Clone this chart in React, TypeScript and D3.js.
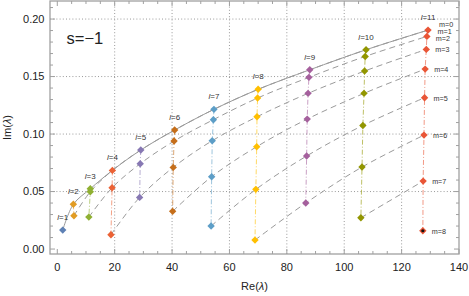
import React from "react";
import * as d3 from "d3";

// l values and the Mathematica-style default colours
const ells = [1, 2, 3, 4, 5, 6, 7, 8, 9, 10, 11];
const colors = [
  "#5E81B5", "#E19C24", "#8FB032", "#EB6235", "#8778B3", "#C56E1A",
  "#5D9EC7", "#FFBF00", "#A5609D", "#929600", "#E95536",
];

// Re(lambda) of each point, index = m (m=0 and m=1 coincide from l=4 on)
const reVals = [
  [1.9],
  [5.6, 5.8],
  [11.5, 11.5, 11.0],
  [19.2, 19.2, 19.1, 18.7],
  [29.1, 29.1, 28.9, 28.7],
  [40.9, 40.9, 40.7, 40.4, 40.2],
  [54.6, 54.6, 54.4, 54.0, 53.8, 53.6],
  [70.0, 70.0, 69.8, 69.6, 69.5, 69.2, 68.9],
  [88.0, 88.0, 87.7, 87.4, 87.1, 86.9, 86.6],
  [107.6, 107.6, 107.3, 107.1, 106.9, 106.5, 106.2, 105.8],
  [129.2, 129.2, 128.8, 128.6, 128.2, 128.0, 127.8, 127.5, 127.4],
];
// Im(lambda) of each point
const imVals = [
  [0.0165],
  [0.0389, 0.029],
  [0.0524, 0.0498, 0.0278],
  [0.0684, 0.0684, 0.0533, 0.0125],
  [0.0861, 0.0861, 0.0742, 0.0449],
  [0.1035, 0.1035, 0.0939, 0.071, 0.0328],
  [0.1215, 0.1215, 0.1125, 0.0942, 0.0629, 0.02],
  [0.1389, 0.1389, 0.1313, 0.115, 0.089, 0.0519, 0.0078],
  [0.1559, 0.1559, 0.1493, 0.1354, 0.113, 0.0809, 0.04],
  [0.1733, 0.1733, 0.1675, 0.1548, 0.1354, 0.1075, 0.0713, 0.0272],
  [0.1904, 0.1904, 0.1849, 0.1736, 0.1565, 0.1316, 0.0991, 0.0591, 0.0159],
];

const xMajor = [0, 20, 40, 60, 80, 100, 120, 140];
const yMajor = [0, 0.05, 0.1, 0.15, 0.2];
const yLabels = ["0.00", "0.05", "0.10", "0.15", "0.20"];

const W = 469;
const H = 296;
const FONT = "Liberation Sans, Arial, Helvetica, sans-serif";

export default function App() {
  const x = d3.scaleLinear().domain([-2.54, 140]).range([50, 459]);
  const y = d3.scaleLinear().domain([-0.0043, 0.2157]).range([254, 1]);
  const [x0, x1] = x.range();
  const [y0, y1] = y.range();

  const xMinor = d3.range(0, 141, 5).filter((v) => v % 20 !== 0);
  const yMinor = d3.range(0, 22).map((v) => v / 100).filter((v) => Math.round(v * 100) % 5 !== 0);

  // one curve per m, across l
  const maxM = d3.max(imVals, (a) => a.length)!;
  const mLines = d3.range(maxM).map((m) =>
    ells
      .map((l, i) => (imVals[i].length > m ? { re: reVals[i][m], im: imVals[i][m] } : null))
      .filter((p) => p !== null) as { re: number; im: number }[]
  );
  const line = d3
    .line<{ re: number; im: number }>()
    .x((d) => x(d.re))
    .y((d) => y(d.im))
    .curve(d3.curveCatmullRom.alpha(0.5));
  const vline = d3
    .line<{ re: number; im: number }>()
    .x((d) => x(d.re))
    .y((d) => y(d.im));

  const diamond = (cx: number, cy: number, r = 3.7) =>
    `M${cx},${cy - r}L${cx + r},${cy}L${cx},${cy + r}L${cx - r},${cy}Z`;

  const lastIdx = ells.length - 1;
  const lastRe = reVals[lastIdx];
  const lastIm = imVals[lastIdx];

  return (
    <svg width={W} height={H} style={{ position: "absolute", left: 0, top: 0 }} fontFamily={FONT}>
      <rect width={W} height={H} fill="#fff" />
      {/* grid */}
      <g stroke="#9a9a9a" strokeWidth={1} strokeDasharray="1,2.2">
        {xMajor.filter((v) => v > 0 && v < 140).map((v) => (
          <line key={"gx" + v} x1={x(v)} x2={x(v)} y1={y0} y2={y1} />
        ))}
        {yMajor.filter((v) => v > 0).map((v) => (
          <line key={"gy" + v} x1={x0} x2={x1} y1={y(v)} y2={y(v)} />
        ))}
      </g>

      {/* vertical dash-dot connectors per l */}
      {ells.map((l, i) =>
        imVals[i].length > 1 ? (
          <path
            key={"v" + l}
            d={vline(imVals[i].map((im, m) => ({ re: reVals[i][m], im })))!}
            fill="none"
            stroke={colors[i]}
            strokeOpacity={0.6}
            strokeWidth={1}
            strokeDasharray="5,2,1,2"
          />
        ) : null
      )}

      {/* m curves */}
      {mLines.map((pts, m) =>
        pts.length > 1 ? (
          <path
            key={"m" + m}
            d={line(pts)!}
            fill="none"
            stroke="#9a9a9a"
            strokeWidth={1}
            strokeDasharray={m === 0 ? undefined : "6,4"}
          />
        ) : null
      ).reverse()}

      {/* markers */}
      {ells.map((l, i) =>
        imVals[i].map((im, m) =>
          m > 0 && im === imVals[i][m - 1] ? null : (
            <path key={`p${l}-${m}`} d={diamond(x(reVals[i][m]), y(im))} fill={colors[i]} />
          )
        )
      )}
      <circle cx={x(lastRe[lastRe.length - 1])} cy={y(lastIm[lastIm.length - 1])} r={1.6} fill="#111" />

      {/* l labels */}
      {ells.map((l, i) => (
        <text
          key={"lt" + l}
          x={x(reVals[i][0])}
          y={y(imVals[i][0]) - 10}
          fontSize={8}
          textAnchor="middle"
          fill="#333"
        >
          <tspan fontStyle="italic">l</tspan>={l}
        </text>
      ))}

      {/* m labels for last l */}
      {lastIm.map((im, m) => (
        <text
          key={"ml" + m}
          x={x(lastRe[m]) + 9 + (m === 0 ? 2 : m === 1 ? 0.5 : 0)}
          y={y(im) + (m === 0 ? -6 : m === 1 ? 1.2 : m === 2 ? 1.6 : 0.5)}
          dy="0.35em"
          fontSize={7.2}
          fill="#333"
        >
          m={m}
        </text>
      ))}

      {/* frame */}
      <rect x={x0} y={y1} width={x1 - x0} height={y0 - y1} fill="none" stroke="#a0a0a0" strokeWidth={1.3} />
      <g stroke="#a0a0a0" strokeWidth={1}>
        {xMajor.map((v) => (
          <g key={"xt" + v}>
            <line x1={x(v)} x2={x(v)} y1={y0} y2={y0 - 5} />
            <line x1={x(v)} x2={x(v)} y1={y1} y2={y1 + 5} />
          </g>
        ))}
        {xMinor.map((v) => (
          <g key={"xm" + v}>
            <line x1={x(v)} x2={x(v)} y1={y0} y2={y0 - 3} />
            <line x1={x(v)} x2={x(v)} y1={y1} y2={y1 + 3} />
          </g>
        ))}
        {yMajor.map((v) => (
          <g key={"yt" + v}>
            <line x1={x0} x2={x0 + 5} y1={y(v)} y2={y(v)} />
            <line x1={x1} x2={x1 - 5} y1={y(v)} y2={y(v)} />
          </g>
        ))}
        {yMinor.map((v) => (
          <g key={"ym" + v}>
            <line x1={x0} x2={x0 + 3} y1={y(v)} y2={y(v)} />
            <line x1={x1} x2={x1 - 3} y1={y(v)} y2={y(v)} />
          </g>
        ))}
      </g>

      {/* tick labels */}
      {xMajor.map((v) => (
        <text key={"xl" + v} x={x(v)} y={270.5} fontSize={11} textAnchor="middle" fill="#222">
          {v}
        </text>
      ))}
      {yMajor.map((v, i) => (
        <text key={"yl" + v} x={44.5} y={y(v)} dy="0.35em" fontSize={11} textAnchor="end" fill="#222">
          {yLabels[i]}
        </text>
      ))}

      {/* axis titles */}
      <text x={(x0 + x1) / 2} y={290} fontSize={11} textAnchor="middle" fill="#222">
        Re(<tspan fontStyle="italic">λ</tspan>)
      </text>
      <text
        transform={`translate(10.5,${(y0 + y1) / 2}) rotate(-90)`}
        fontSize={11}
        textAnchor="middle"
        fill="#222"
      >
        Im(<tspan fontStyle="italic">λ</tspan>)
      </text>

      <text x={66.5} y={43.5} fontSize={16.5} fill="#222">
        s=−1
      </text>
    </svg>
  );
}
